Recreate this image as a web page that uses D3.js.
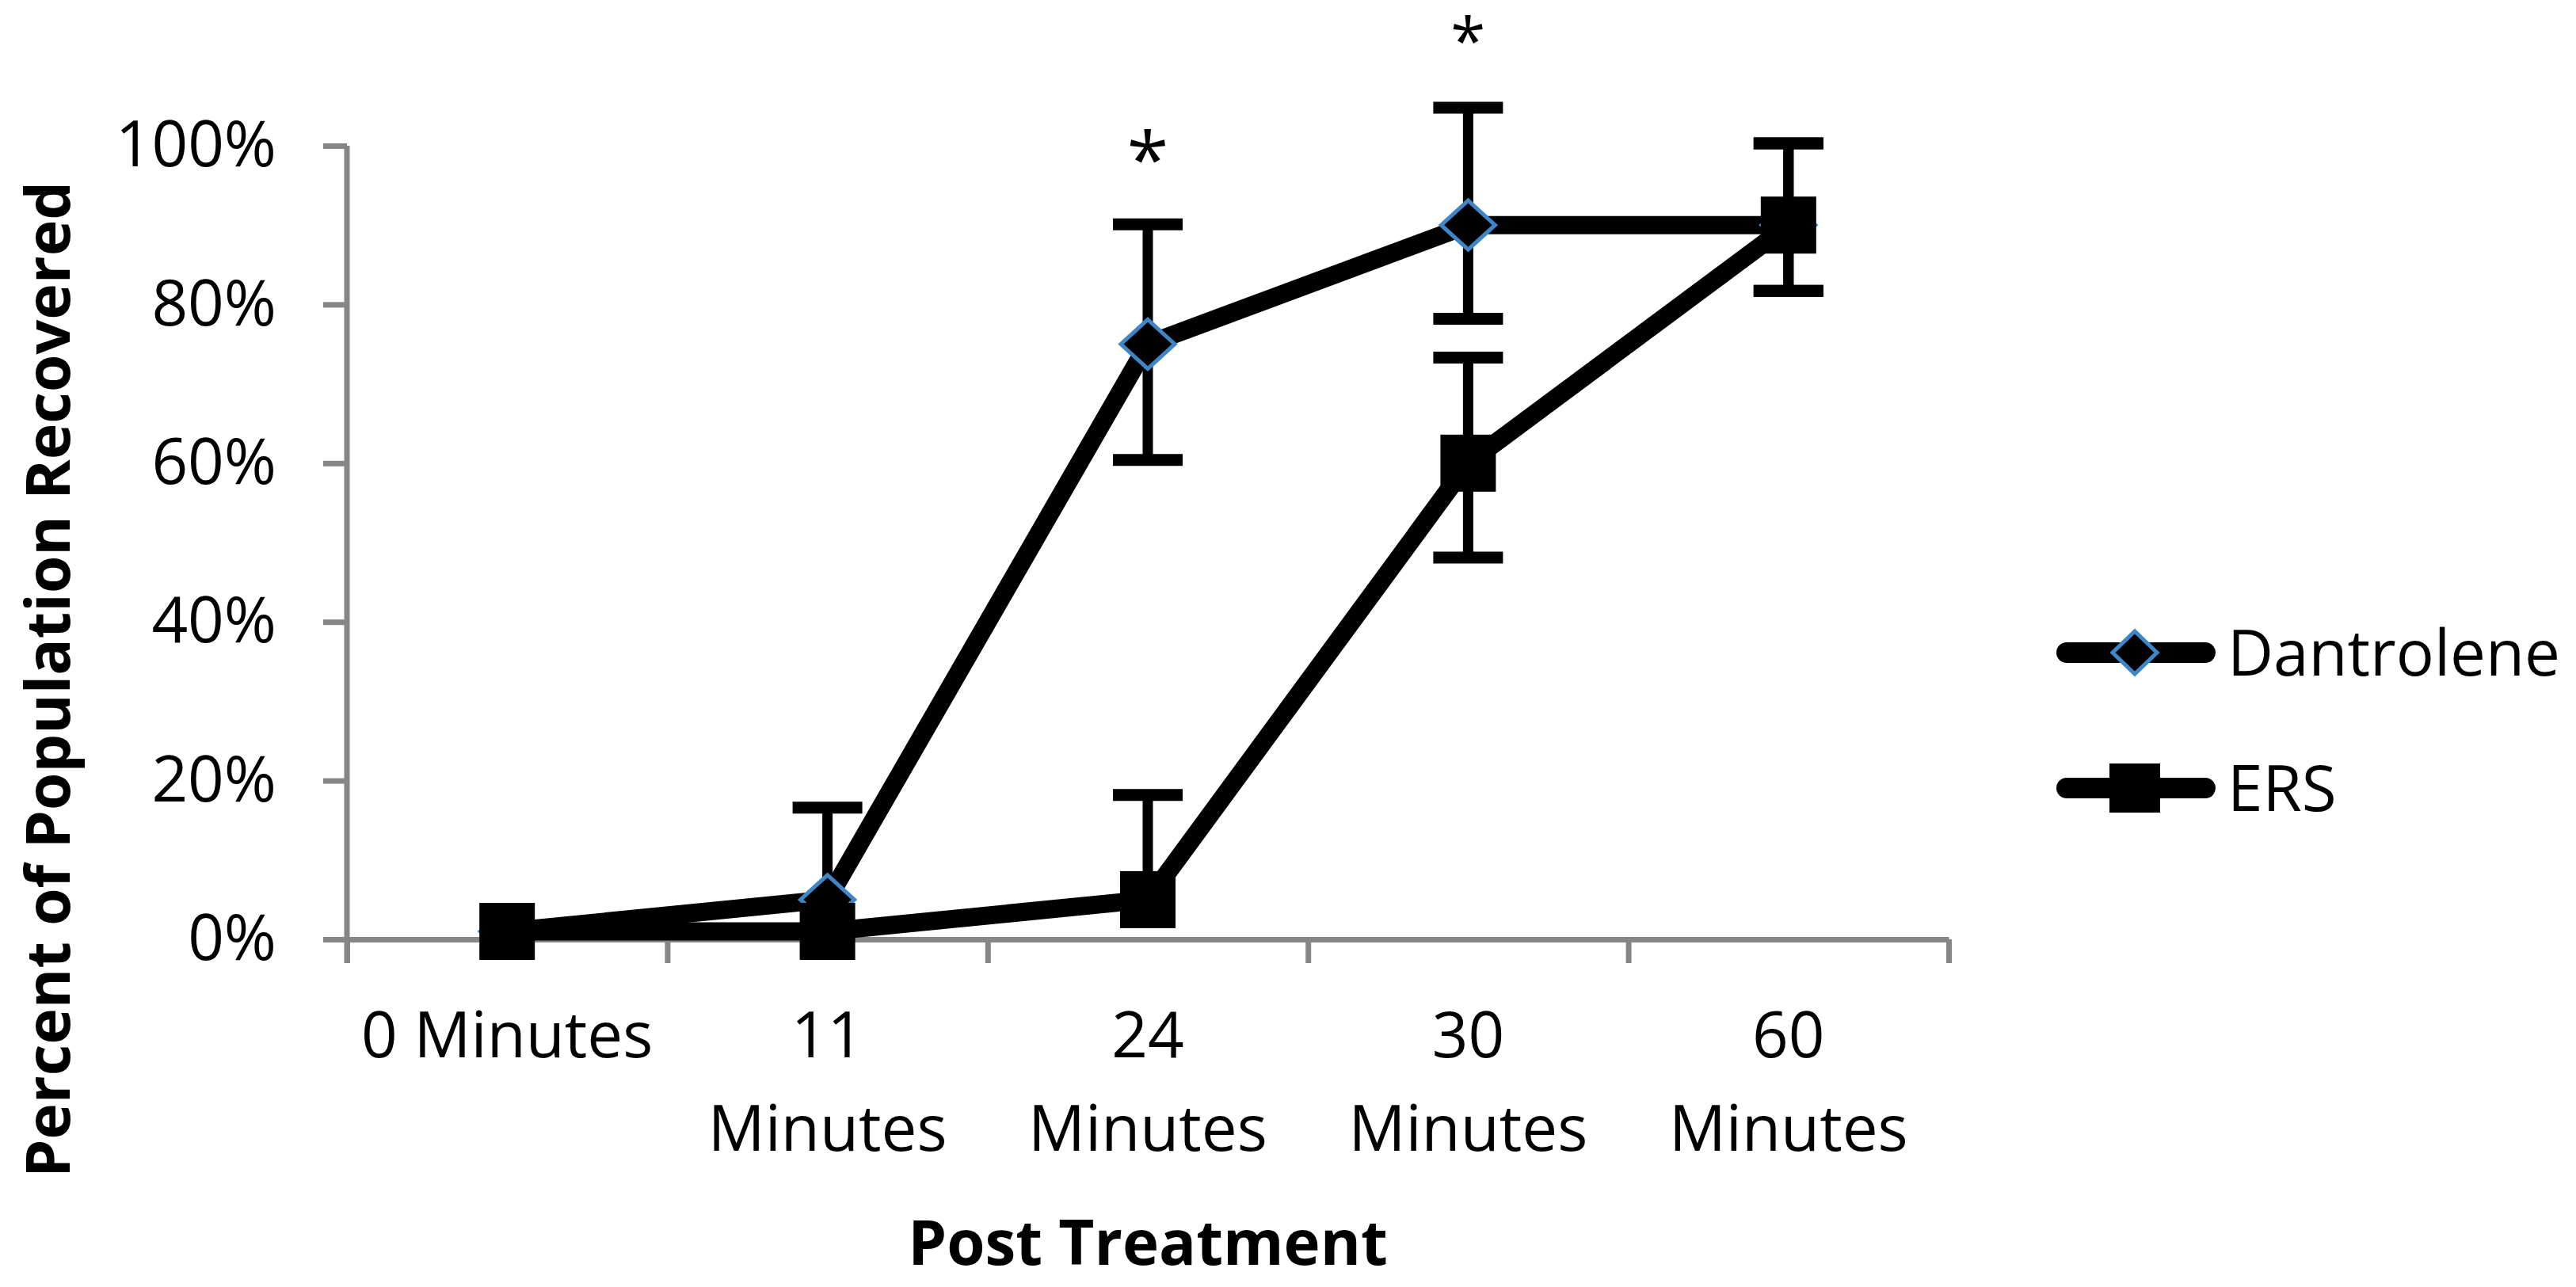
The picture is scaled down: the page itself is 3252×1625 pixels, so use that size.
<!DOCTYPE html>
<html>
<head>
<meta charset="utf-8">
<script src="https://cdn.jsdelivr.net/npm/d3@7"></script>
<style>
  body { margin: 0; background: #ffffff; }
  text { font-family: "Open Sans", "Noto Sans", sans-serif; fill: #000000; }
  .axis path, .axis line { stroke: #868686; stroke-width: 7; }
</style>
</head>
<body>
<div id="chart"></div>
<script>
// Chart values
var categories = ["0 Minutes", "11 Minutes", "24 Minutes", "30 Minutes", "60 Minutes"];
var tickLabels = [["0 Minutes"], ["11", "Minutes"], ["24", "Minutes"], ["30", "Minutes"], ["60", "Minutes"]];
var yTicks = [0, 20, 40, 60, 80, 100];

var dantroleneValues = [1, 5, 75, 90, 90];
var dantrolenePlus = [0, 11.6, 15.1, 14.8, 10.3];
var dantroleneMinus = [0, 0, 14.6, 11.8, 8.3];

var ersValues = [1, 1, 5, 60, 90];
var ersPlus = [0, 0, 13.2, 13.3, 10.3];
var ersMinus = [0, 0, 0, 11.9, 8.3];

var significance = ["", "", "*", "*", ""];

// SVG area
var svgWidth = 3252;
var svgHeight = 1625;

// plot area edges in page pixels
var plot = { left: 438, right: 2460, top: 184, bottom: 1186 };

var svg = d3.select("#chart")
  .append("svg")
  .attr("width", svgWidth)
  .attr("height", svgHeight);

// Scales
var xBand = d3.scaleBand()
  .domain(categories)
  .range([plot.left, plot.right])
  .padding(0);

var xEdge = d3.scaleLinear()
  .domain([0, categories.length])
  .range([plot.left, plot.right]);

var yScale = d3.scaleLinear()
  .domain([0, 100])
  .range([plot.bottom, plot.top]);

function xCenter(i) {
  return xBand(categories[i]) + xBand.bandwidth() / 2;
}

// x axis: ticks sit on the category borders
var xAxis = svg.append("g")
  .attr("class", "axis")
  .attr("transform", `translate(0, ${plot.bottom})`)
  .call(d3.axisBottom(xEdge)
    .tickValues(d3.range(categories.length + 1))
    .tickSize(30)
    .tickSizeOuter(0)
    .tickFormat(""));

// y axis
var yAxis = svg.append("g")
  .attr("class", "axis")
  .attr("transform", `translate(${plot.left}, 0)`)
  .call(d3.axisLeft(yScale)
    .tickValues(yTicks)
    .tickSize(30)
    .tickSizeOuter(0)
    .tickPadding(59)
    .tickFormat(d => d + "%"));

yAxis.select(".domain").attr("d", `M0,${yScale(0) + 30}V${yScale(100)}`);
yAxis.selectAll("text")
  .attr("font-size", 80)
  .attr("font-family", "Open Sans")
  .attr("fill", "#000");

// category labels, wrapped like the original
var labelGroups = svg.selectAll(".xlabel")
  .data(tickLabels)
  .enter()
  .append("text")
  .attr("class", "xlabel")
  .attr("text-anchor", "middle")
  .attr("font-size", 80);

labelGroups.selectAll("tspan")
  .data((d, i) => d.map(t => ({ t: t, i: i })))
  .enter()
  .append("tspan")
  .attr("x", d => xCenter(d.i))
  .attr("y", (d, j) => 1335 + j * 118)
  .text(d => d.t);

// axis titles
svg.append("text")
  .attr("x", (plot.left + plot.right) / 2)
  .attr("y", 1597)
  .attr("text-anchor", "middle")
  .attr("font-size", 78)
  .attr("font-weight", "bold")
  .text("Post Treatment");

svg.append("text")
  .attr("transform", "translate(88, 858) rotate(-90)")
  .attr("text-anchor", "middle")
  .attr("font-size", 77)
  .attr("font-weight", "bold")
  .text("Percent of Population Recovered");

// series drawing
var line = d3.line()
  .x((d, i) => xCenter(i))
  .y(d => yScale(d));

function diamondPath(w, h) {
  return `M0,${-h}L${w},0L0,${h}L${-w},0Z`;
}

function drawSeries(values, plus, minus, marker) {
  var g = svg.append("g");

  g.append("path")
    .datum(values)
    .attr("d", line)
    .attr("fill", "none")
    .attr("stroke", "#000")
    .attr("stroke-width", 23)
    .attr("stroke-linejoin", "round");

  // error bars
  values.forEach(function (v, i) {
    var cx = xCenter(i);
    var bars = [];
    if (plus[i] > 0) bars.push(v + plus[i]);
    if (minus[i] > 0) bars.push(v - minus[i]);
    bars.forEach(function (end) {
      g.append("line")
        .attr("x1", cx).attr("x2", cx)
        .attr("y1", yScale(v)).attr("y2", yScale(end))
        .attr("stroke", "#000")
        .attr("stroke-width", 13);
      g.append("line")
        .attr("x1", cx - 44).attr("x2", cx + 44)
        .attr("y1", yScale(end)).attr("y2", yScale(end))
        .attr("stroke", "#000")
        .attr("stroke-width", 15);
    });
  });

  // markers
  if (marker === "diamond") {
    g.selectAll(".mk")
      .data(values)
      .enter()
      .append("path")
      .attr("transform", (d, i) => `translate(${xCenter(i)}, ${yScale(d)})`)
      .attr("d", diamondPath(34, 31))
      .attr("fill", "#000")
      .attr("stroke", "#3f86c8")
      .attr("stroke-width", 5);
  } else {
    g.selectAll(".mk")
      .data(values)
      .enter()
      .append("rect")
      .attr("x", (d, i) => xCenter(i) - 35)
      .attr("y", d => yScale(d) - 36)
      .attr("width", 70)
      .attr("height", 72)
      .attr("fill", "#000");
  }
}

drawSeries(dantroleneValues, dantrolenePlus, dantroleneMinus, "diamond");
drawSeries(ersValues, ersPlus, ersMinus, "square");

// significance stars, centred ten points above the upper error bar
// (the asterisk glyph sits about 0.55em above the baseline)
significance.forEach(function (s, i) {
  if (!s) return;
  var size = i === 2 ? 96 : 80;
  var target = yScale(dantroleneValues[i] + dantrolenePlus[i] + 10);
  svg.append("text")
    .attr("x", xCenter(i))
    .attr("y", target + 0.55 * size)
    .attr("text-anchor", "middle")
    .attr("font-size", size)
    .text(s);
});

// legend
var legendItems = [
  { name: "Dantrolene", marker: "diamond", y: 824 },
  { name: "ERS", marker: "square", y: 995 }
];

var legend = svg.append("g");

legendItems.forEach(function (item) {
  legend.append("line")
    .attr("x1", 2609).attr("x2", 2784)
    .attr("y1", item.y).attr("y2", item.y)
    .attr("stroke", "#000")
    .attr("stroke-width", 26)
    .attr("stroke-linecap", "round");
  if (item.marker === "diamond") {
    legend.append("path")
      .attr("transform", `translate(2695, ${item.y})`)
      .attr("d", diamondPath(28, 27))
      .attr("fill", "#000")
      .attr("stroke", "#3f86c8")
      .attr("stroke-width", 5);
  } else {
    legend.append("rect")
      .attr("x", 2695 - 32)
      .attr("y", item.y - 31)
      .attr("width", 64)
      .attr("height", 62)
      .attr("fill", "#000");
  }
  legend.append("text")
    .attr("x", 2812)
    .attr("y", item.y + 29)
    .attr("font-size", 80)
    .text(item.name);
});
</script>
</body>
</html>
